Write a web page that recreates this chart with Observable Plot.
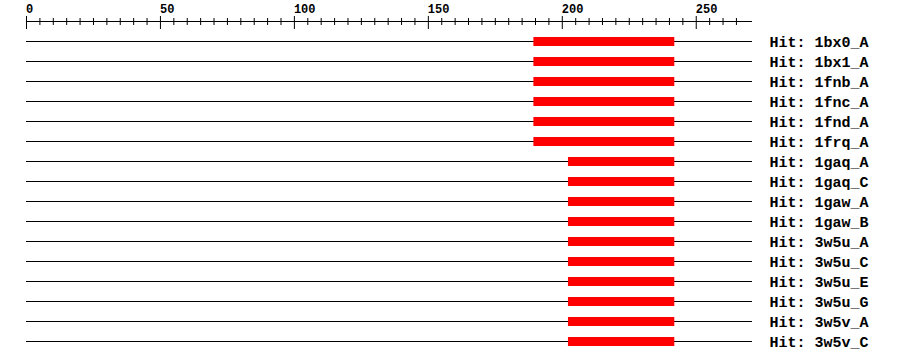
<!DOCTYPE html>
<html><head><meta charset="utf-8">
<script src="https://cdn.jsdelivr.net/npm/d3@7"></script>
<script src="https://cdn.jsdelivr.net/npm/@observablehq/plot@0.6"></script>
<style>body{margin:0;background:#fff}</style>
</head><body><div id="chart"></div>
<script>
const queryLength = 271;
const hitNames = ["1bx0_A","1bx1_A","1fnb_A","1fnc_A","1fnd_A","1frq_A","1gaq_A","1gaq_C","1gaw_A","1gaw_B","3w5u_A","3w5u_C","3w5u_E","3w5u_G","3w5v_A","3w5v_C"];
const hitStarts = [189.4,189.4,189.4,189.4,189.4,189.4,202.3,202.3,202.3,202.3,202.3,202.3,202.3,202.3,202.3,202.3];
const hitEnds = [242,242,242,242,242,242,242,242,242,242,242,242,242,242,242,242];
const majorTicks = [0,50,100,150,200,250];
const tickLabels = ["0","50","100","150","200","250"];
const minorTicks = d3.range(0, 266, 5).filter(v => v % 50 !== 0);

const hits = hitNames.map((name, i) => ({name, start: hitStarts[i], end: hitEnds[i]}));
const font = "'Liberation Mono', 'DejaVu Sans Mono', monospace";

const chart = Plot.plot({
  width: 900,
  height: 360,
  marginTop: 0, marginBottom: 0, marginLeft: 0, marginRight: 0,
  style: {background: "white", fontFamily: font, overflow: "visible"},
  x: {domain: [0, queryLength], range: [26, 752], axis: null},
  y: {type: "band", domain: ["axis", ...hitNames], range: [11.5, 351.5], padding: 0, round: false, axis: null},
  marks: [
    // axis line
    Plot.barX([queryLength], {x1: () => 0, x2: d => d, y: () => "axis", insetTop: 9.5, insetBottom: 9.5, fill: "black"}),
    Plot.tickX(majorTicks, {x: d => d, y: () => "axis", insetTop: 4.5, insetBottom: 2.5, stroke: "black", strokeWidth: 1}),
    Plot.tickX(minorTicks, {x: d => d, y: () => "axis", insetTop: 6.5, insetBottom: 6.5, stroke: "black", strokeWidth: 1}),
    Plot.text(majorTicks, {x: d => d, y: () => "axis", text: (d, i) => tickLabels[i], textAnchor: "start", dy: -13, dx: -0.5,
      fontFamily: font, fontWeight: "bold", fontSize: 12, fill: "black"}),
    // query backbone lines
    Plot.barX(hits, {x1: () => 0, x2: () => queryLength, y: "name", insetTop: 9.5, insetBottom: 9.5, fill: "black"}),
    // hit segments
    Plot.barX(hits, {x1: "start", x2: "end", y: "name", insetTop: 5.5, insetBottom: 5.5, fill: "#ff0000"}),
    // labels
    Plot.text(hits, {x: () => queryLength, y: "name", text: d => "Hit: " + d.name, textAnchor: "start", dx: 17,
      fontFamily: font, fontWeight: "bold", fontSize: 15, fill: "black"})
  ]
});
document.getElementById("chart").appendChild(chart);
</script>
</body></html>
